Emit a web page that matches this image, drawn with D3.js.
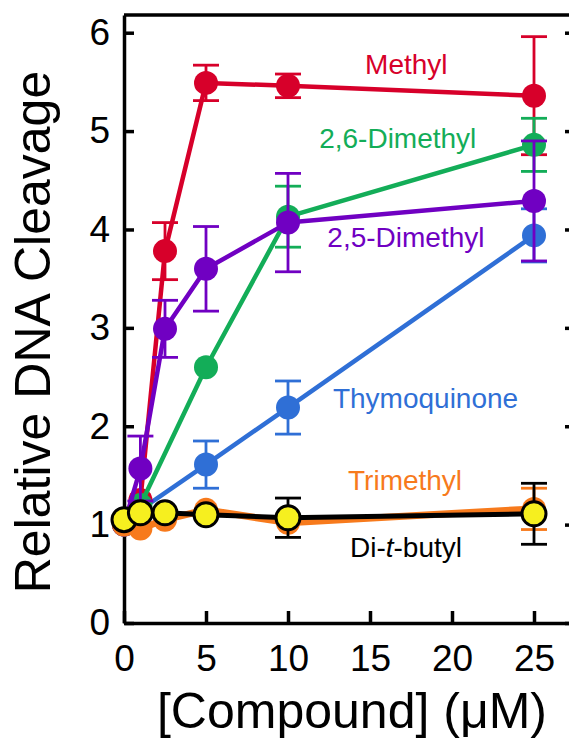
<!DOCTYPE html>
<html>
<head>
<meta charset="utf-8">
<script src="https://cdn.jsdelivr.net/npm/d3@7"></script>
<style>
  body { margin: 0; background: #fff; }
  svg { display: block; font-family: "Liberation Sans", Arial, sans-serif; }
</style>
</head>
<body>
<svg id="chart" width="569" height="740"></svg>
<script>
// data (x in uM, y = relative cleavage, err = +/- bar)
const methylX = [0, 1, 2.5, 5, 10, 25];
const methylY = [1.0, 1.25, 3.78, 5.49, 5.46, 5.36];
const methylErr = [0, 0, 0.29, 0.18, 0.12, 0.6];

const dimethyl26X = [0, 1, 5, 10, 25];
const dimethyl26Y = [1.0, 1.2, 2.6, 4.13, 4.86];
const dimethyl26Err = [0, 0, 0, 0.31, 0.27];

const dimethyl25X = [0, 1, 2.5, 5, 10, 25];
const dimethyl25Y = [1.0, 1.57, 2.99, 3.6, 4.07, 4.29];
const dimethyl25Err = [0, 0.33, 0.29, 0.43, 0.5, 0.61];

const thymoX = [0, 1, 5, 10, 25];
const thymoY = [1.0, 1.15, 1.61, 2.19, 3.94];
const thymoErr = [0, 0, 0.24, 0.27, 0.27];

const trimethylX = [0, 1, 2.5, 5, 10, 25];
const trimethylY = [1.0, 0.96, 1.05, 1.15, 1.02, 1.16];
const trimethylErr = [0, 0, 0, 0, 0, 0.21];

const butylX = [0, 1, 2.5, 5, 10, 25];
const butylY = [1.05, 1.12, 1.12, 1.1, 1.07, 1.11];
const butylErr = [0, 0, 0, 0, 0.2, 0.31];

const xTicks = [0, 5, 10, 15, 20, 25];
const yTicks = [0, 1, 2, 3, 4, 5, 6];

const svg = d3.select('#chart');
const plotL = 124, plotR = 575, plotT = 15, plotB = 623;

const x = d3.scaleLinear().domain([0, 27.5]).range([plotL, plotR]);
const y = d3.scaleLinear().domain([0, 6.18]).range([plotB, plotT]);

// series, in drawing order (last one on top)
const series = [
    { name: 'Thymoquinone', xs: thymoX, ys: thymoY, err: thymoErr, color: '#2f6fd6', lw: 4.5, lab: [12.74, 2.19] },
    { name: 'Methyl', xs: methylX, ys: methylY, err: methylErr, color: '#d7002a', lw: 4.5, lab: [14.7, 5.58] },
    { name: '2,6-Dimethyl', xs: dimethyl26X, ys: dimethyl26Y, err: dimethyl26Err, color: '#13ad58', lw: 4.5, lab: [11.9, 4.83] },
    { name: '2,5-Dimethyl', xs: dimethyl25X, ys: dimethyl25Y, err: dimethyl25Err, color: '#7000c2', lw: 4.5, lab: [12.4, 3.82] },
    { name: 'Trimethyl', xs: trimethylX, ys: trimethylY, err: trimethylErr, color: '#f77a1c', lw: 7, lab: [13.66, 1.35] },
    { name: 'Di-t-butyl', xs: butylX, ys: butylY, err: butylErr, color: '#000', lw: 5, fill: '#f6ef1f', lab: [13.78, 0.67] }
];

// axes
svg.append('g')
    .attr('transform', `translate(0,${plotB})`)
    .call(d3.axisBottom(x).tickValues(xTicks).tickSize(-12).tickSizeOuter(0).tickPadding(22))
    .call(g => g.selectAll('text').attr('font-size', 37).attr('fill', '#000'));

svg.append('g')
    .attr('transform', `translate(${plotL},0)`)
    .call(d3.axisLeft(y).tickValues(yTicks).tickFormat(d3.format('d'))
        .tickSize(-10).tickSizeOuter(0).tickPadding(14))
    .call(g => g.selectAll('text').attr('font-size', 37).attr('fill', '#000'));

svg.append('g')
    .attr('transform', `translate(${plotR},0)`)
    .call(d3.axisRight(y).tickValues(yTicks).tickSize(-10).tickSizeOuter(0).tickFormat(''));

svg.selectAll('.domain').attr('stroke-width', 3.5);
svg.selectAll('.tick line').attr('stroke-width', 3.5);

svg.append('line')
    .attr('x1', plotL).attr('x2', plotR)
    .attr('y1', plotT).attr('y2', plotT)
    .attr('stroke', '#000').attr('stroke-width', 3.5);

const line = d3.line().x(d => x(d[0])).y(d => y(d[1]));

series.forEach(s => {
    const pts = s.xs.map((v, i) => [v, s.ys[i], s.err[i]]);
    const g = svg.append('g');

    g.append('path')
        .attr('d', line(pts))
        .attr('fill', 'none')
        .attr('stroke', s.color)
        .attr('stroke-width', s.lw)
        .attr('stroke-linejoin', 'round');

    // error bars
    const eb = g.selectAll('.eb').data(pts.filter(d => d[2] > 0)).enter().append('g')
        .attr('stroke', s.color).attr('stroke-width', 2.8);
    eb.append('line')
        .attr('x1', d => x(d[0])).attr('x2', d => x(d[0]))
        .attr('y1', d => y(d[1] - d[2])).attr('y2', d => y(d[1] + d[2]));
    eb.append('line')
        .attr('x1', d => x(d[0]) - 13).attr('x2', d => x(d[0]) + 13)
        .attr('y1', d => y(d[1] + d[2])).attr('y2', d => y(d[1] + d[2]));
    eb.append('line')
        .attr('x1', d => x(d[0]) - 13).attr('x2', d => x(d[0]) + 13)
        .attr('y1', d => y(d[1] - d[2])).attr('y2', d => y(d[1] - d[2]));

    g.selectAll('circle').data(pts).enter().append('circle')
        .attr('cx', d => x(d[0]))
        .attr('cy', d => y(d[1]))
        .attr('r', 12)
        .attr('fill', s.fill || s.color)
        .attr('stroke', s.fill ? '#000' : 'none')
        .attr('stroke-width', 3);
});

// series labels
series.forEach(s => {
    const t = svg.append('text')
        .attr('x', x(s.lab[0]))
        .attr('y', y(s.lab[1]))
        .attr('font-size', 28)
        .attr('fill', s.color);
    if (s.name === 'Di-t-butyl') {
        t.append('tspan').text('Di-');
        t.append('tspan').attr('font-style', 'italic').text('t');
        t.append('tspan').text('-butyl');
    } else {
        t.text(s.name);
    }
});

// axis titles
svg.append('text')
    .attr('transform', 'translate(50,332) rotate(-90)')
    .attr('text-anchor', 'middle')
    .attr('font-size', 50)
    .text('Relative DNA Cleavage');

svg.append('text')
    .attr('x', 352).attr('y', 728)
    .attr('text-anchor', 'middle')
    .attr('font-size', 50)
    .text('[Compound] (μM)');
</script>
</body>
</html>
